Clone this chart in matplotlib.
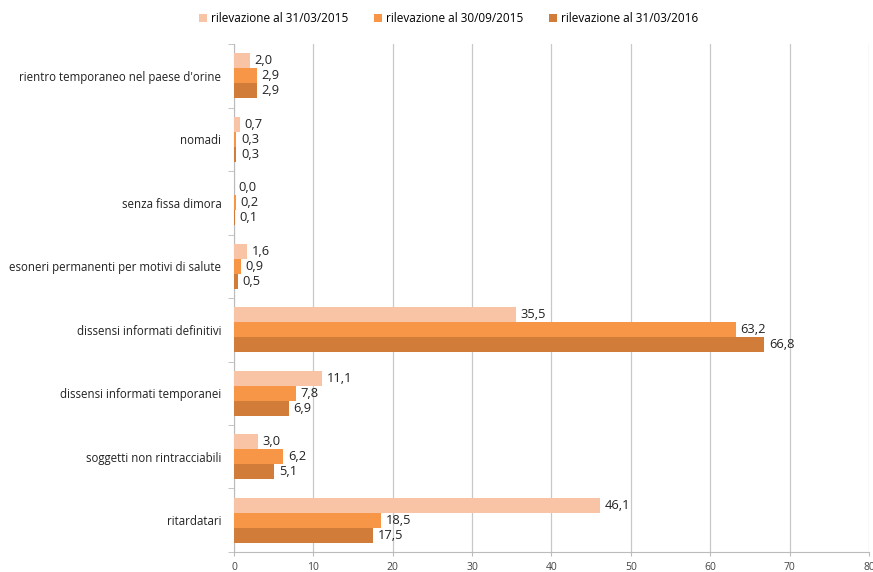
import numpy as np
import matplotlib.pyplot as plt
from matplotlib.patches import Patch

# Dati
categorie = ['ritardatari', 'soggetti non rintracciabili', 'dissensi informati temporanei',
             'dissensi informati definitivi', 'esoneri permanenti per motivi di salute',
             'senza fissa dimora', 'nomadi', "rientro temporaneo nel paese d'orine"]
serie = ['rilevazione al 31/03/2015', 'rilevazione al 30/09/2015', 'rilevazione al 31/03/2016']
val_2015_03 = [46.1, 3.0, 11.1, 35.5, 1.6, 0.0, 0.7, 2.0]
val_2015_09 = [18.5, 6.2, 7.8, 63.2, 0.9, 0.2, 0.3, 2.9]
val_2016_03 = [17.5, 5.1, 6.9, 66.8, 0.5, 0.1, 0.3, 2.9]
colori = ['#F9C3A5', '#F79646', '#D27C3A']

plt.rcParams['font.family'] = ['Open Sans', 'DejaVu Sans']

fig = plt.figure(figsize=(8.73, 5.72), dpi=100)
ax = fig.add_axes([0.268, 0.035, 0.7274, 0.888])

y = np.arange(len(categorie))
h = 0.235
dati = [val_2015_03, val_2015_09, val_2016_03]
for i, (vals, col) in enumerate(zip(dati, colori)):
    pos = y + h - i * h
    ax.barh(pos, vals, height=h, color=col, zorder=3)
    for p, v in zip(pos, vals):
        ax.text(v + 0.6, p, f'{v:.1f}'.replace('.', ','), va='center', ha='left',
                fontsize=9.3, color='#222222', zorder=4)

ax.set_xlim(0, 80)
ax.set_ylim(-0.5, len(categorie) - 0.5)
ax.set_xticks(np.arange(0, 81, 10))
ax.tick_params(axis='x', labelsize=7.5, colors='#444444', length=3, color='#BBBBBB', pad=4)
ax.grid(axis='x', color='#C8C8C8', linewidth=0.9, zorder=0)

# etichette delle categorie al centro, tacche ai bordi
ax.set_yticks(y)
ax.set_yticklabels(categorie, fontsize=8.3, color='#222222')
ax.tick_params(axis='y', length=0, pad=9)
ax.set_yticks(np.arange(-0.5, len(categorie), 1), minor=True)
ax.tick_params(axis='y', which='minor', length=4, color='#BBBBBB')

for s in ['top', 'right']:
    ax.spines[s].set_visible(False)
ax.spines['left'].set_color('#BBBBBB')
ax.spines['bottom'].set_color('#BBBBBB')

maniglie = [Patch(facecolor=c, edgecolor='none') for c in colori]
fig.legend(maniglie, serie, loc='center', bbox_to_anchor=(0.514, 0.967), ncol=3,
           frameon=False, fontsize=8.5, handlelength=0.7, handleheight=0.7,
           handletextpad=0.3, columnspacing=2.2)

fig.savefig('out.png', dpi=100)
